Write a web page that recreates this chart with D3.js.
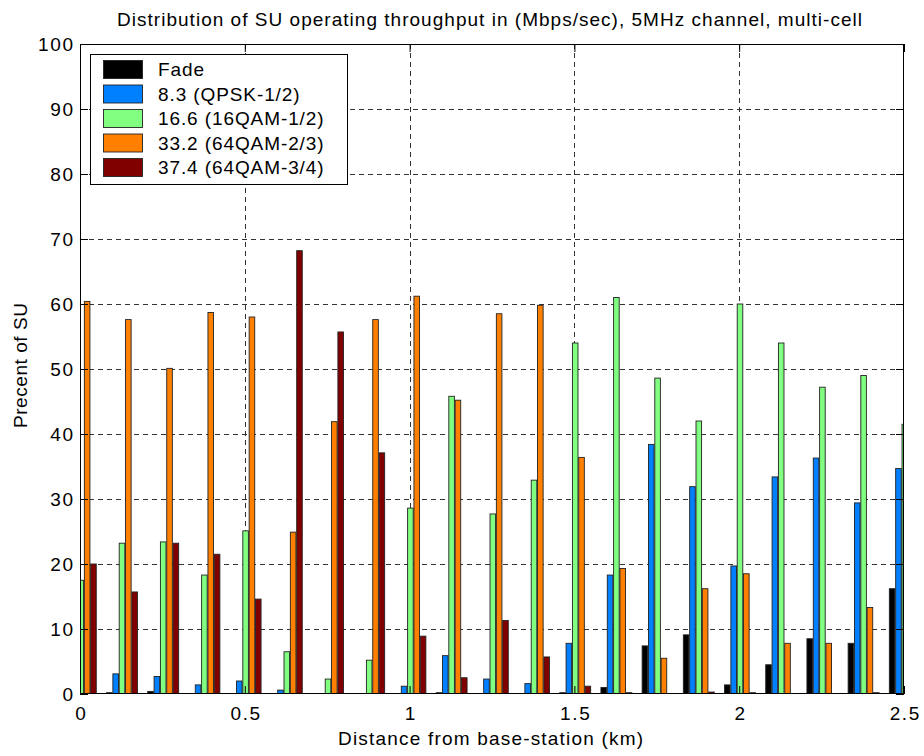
<!DOCTYPE html>
<html>
<head>
<meta charset="utf-8">
<script src="https://cdn.jsdelivr.net/npm/d3@7"></script>
<style>
  html, body { margin: 0; padding: 0; background: #fff; }
  svg { display: block; font-family: "Liberation Sans", Arial, Helvetica, sans-serif; }
</style>
</head>
<body>
<div id="chart"></div>
<script>
// ---- data ----
const distances = [0, 0.125, 0.25, 0.375, 0.5, 0.625, 0.75, 0.875, 1.0, 1.125, 1.25, 1.375, 1.5, 1.625, 1.75, 1.875, 2.0, 2.125, 2.25, 2.375, 2.5];
const seriesNames = ["Fade", "8.3 (QPSK-1/2)", "16.6 (16QAM-1/2)", "33.2 (64QAM-2/3)", "37.4 (64QAM-3/4)"];
const fade     = [0, 0.2, 0.4, 0, 0, 0, 0, 0, 0, 0.2, 0, 0, 0.2, 1.0, 7.4, 9.1, 1.4, 4.5, 8.5, 7.8, 16.2];
const qpsk12   = [0, 3.1, 2.7, 1.4, 2.0, 0.6, 0, 0, 1.2, 5.9, 2.3, 1.6, 7.8, 18.3, 38.4, 31.9, 19.7, 33.4, 36.3, 29.4, 34.7];
const qam16_12 = [17.5, 23.2, 23.4, 18.3, 25.1, 6.5, 2.3, 5.2, 28.6, 45.8, 27.7, 32.9, 54.0, 61.0, 48.6, 42.0, 60.0, 54.0, 47.2, 49.0, 41.5];
const qam64_23 = [60.4, 57.6, 50.1, 58.7, 58.0, 24.9, 41.9, 57.6, 61.2, 45.2, 58.5, 59.8, 36.4, 19.3, 5.5, 16.2, 18.5, 7.8, 7.8, 13.3, 0];
const qam64_34 = [20.0, 15.7, 23.2, 21.5, 14.6, 68.2, 55.7, 37.1, 8.9, 2.5, 11.3, 5.7, 1.2, 0.2, 0, 0.3, 0.2, 0, 0, 0.2, 0];
const seriesColors = ["#000000", "#0080ff", "#80ff80", "#ff8000", "#800000"];
const xTicks = [0, 0.5, 1, 1.5, 2, 2.5];
const yTicks = [0, 10, 20, 30, 40, 50, 60, 70, 80, 90, 100];
const titleText = "Distribution of SU operating throughput in (Mbps/sec), 5MHz channel, multi-cell";
const xLabel = "Distance from base-station (km)";
const yLabel = "Precent of SU";

const seriesValues = [fade, qpsk12, qam16_12, qam64_23, qam64_34];

// ---- layout ----
const W = 924, H = 756;
const m = { left: 80, right: 20, top: 44, bottom: 62 };
const svg = d3.select("#chart").append("svg").attr("width", W).attr("height", H);

const x = d3.scaleLinear().domain([0, 2.5]).range([m.left, W - m.right]);
const y = d3.scaleLinear().domain([0, 100]).range([H - m.bottom, m.top]);

const x0 = x.range()[0], x1 = x.range()[1], y0 = y.range()[0], y1 = y.range()[1];

svg.append("clipPath").attr("id", "plotclip")
  .append("rect").attr("x", x0).attr("y", y1).attr("width", x1 - x0).attr("height", y0 - y1);

// grid
const grid = svg.append("g").attr("stroke", "#333").attr("stroke-width", 1).attr("stroke-dasharray", "5,4");
grid.selectAll("line.gy").data(yTicks.filter(d => d > 0 && d < 100)).join("line")
  .attr("x1", x0).attr("x2", x1).attr("y1", d => Math.round(y(d)) + 0.5).attr("y2", d => Math.round(y(d)) + 0.5);
grid.selectAll("line.gx").data(xTicks.filter(d => d > 0 && d < 2.5)).join("line")
  .attr("y1", y1).attr("y2", y0).attr("x1", d => Math.round(x(d)) + 0.5).attr("x2", d => Math.round(x(d)) + 0.5);

// bars
const groupStep = x(distances[1]) - x(distances[0]);
const nS = seriesValues.length;
const groupWidth = groupStep * Math.min(0.8, nS / (nS + 1.5));
const slot = groupWidth / nS;
const barW = slot * 0.88;

const barsG = svg.append("g").attr("clip-path", "url(#plotclip)");
seriesValues.forEach((vals, si) => {
  barsG.append("g")
    .attr("fill", seriesColors[si])
    .attr("stroke", "#222")
    .attr("stroke-width", 0.9)
    .selectAll("rect").data(vals.map((v, i) => ({ d: distances[i], v }))).join("rect")
    .attr("x", d => x(d.d) + 0.8 + (si - (nS - 1) / 2) * slot - barW / 2)
    .attr("width", barW)
    .attr("y", d => y(d.v))
    .attr("height", d => y(0) - y(d.v));
});

// frame
svg.append("rect").attr("x", x0 + 0.5).attr("y", y1 + 0.5).attr("width", x1 - x0 - 1).attr("height", y0 - y1 - 1)
  .attr("fill", "none").attr("stroke", "#000").attr("stroke-width", 1);

// axes (ticks inward)
const tickLen = 8;
const fs = 19;
const ls = 1.6;
const xAxisB = d3.axisBottom(x).tickValues(xTicks).tickSizeInner(-tickLen).tickSizeOuter(0).tickFormat(d3.format("~g"));
const xAxisT = d3.axisTop(x).tickValues(xTicks).tickSizeInner(-tickLen).tickSizeOuter(0).tickFormat("");
const yAxisL = d3.axisLeft(y).tickValues(yTicks).tickSizeInner(-tickLen).tickSizeOuter(0).tickPadding(7).tickFormat(d3.format("~g"));
const yAxisR = d3.axisRight(y).tickValues(yTicks).tickSizeInner(-tickLen).tickSizeOuter(0).tickFormat("");

function styleAxis(g) {
  g.select(".domain").remove();
  g.selectAll(".tick line").attr("stroke", "#000");
  g.selectAll(".tick text").attr("fill", "#000").attr("font-size", fs)
    .attr("letter-spacing", ls).attr("font-family", "Liberation Sans, Arial, sans-serif");
}
svg.append("g").attr("transform", `translate(0,${y0})`).call(xAxisB).call(styleAxis)
  .selectAll(".tick text").attr("dx", ls / 2).attr("y", 26).attr("dy", 0);
svg.append("g").attr("transform", `translate(0,${y1})`).call(xAxisT).call(styleAxis);
svg.append("g").attr("transform", `translate(${x0},0)`).call(yAxisL).call(styleAxis)
  .selectAll(".tick text").attr("dx", ls).attr("dy", "0.36em");
svg.append("g").attr("transform", `translate(${x1},0)`).call(yAxisR).call(styleAxis);

// title & labels
svg.append("text").attr("x", 117).attr("y", 26)
  .attr("font-size", 19).attr("fill", "#000")
  .attr("textLength", 745).attr("lengthAdjust", "spacing").text(titleText);
svg.append("text").attr("x", 338).attr("y", 745)
  .attr("font-size", 19).attr("fill", "#000")
  .attr("textLength", 305).attr("lengthAdjust", "spacing").text(xLabel);
svg.append("text").attr("transform", `translate(27,428) rotate(-90)`)
  .attr("font-size", 19).attr("fill", "#000")
  .attr("textLength", 125).attr("lengthAdjust", "spacing").text(yLabel);

// legend
const lg = svg.append("g").attr("transform", "translate(90,54)");
lg.append("rect").attr("x", 0.5).attr("y", 0.5).attr("width", 257).attr("height", 130)
  .attr("fill", "#fff").attr("stroke", "#000").attr("stroke-width", 1);
seriesNames.forEach((name, i) => {
  const row = lg.append("g").attr("transform", `translate(0,${6 + i * 24.5})`);
  row.append("rect").attr("x", 13.5).attr("y", 0.5).attr("width", 39).attr("height", 18)
    .attr("fill", seriesColors[i]).attr("stroke", "#222").attr("stroke-width", 0.9);
  row.append("text").attr("x", 68).attr("y", 16).attr("font-size", 19)
    .attr("letter-spacing", 0.9).attr("fill", "#000").text(name);
});
</script>
</body>
</html>
